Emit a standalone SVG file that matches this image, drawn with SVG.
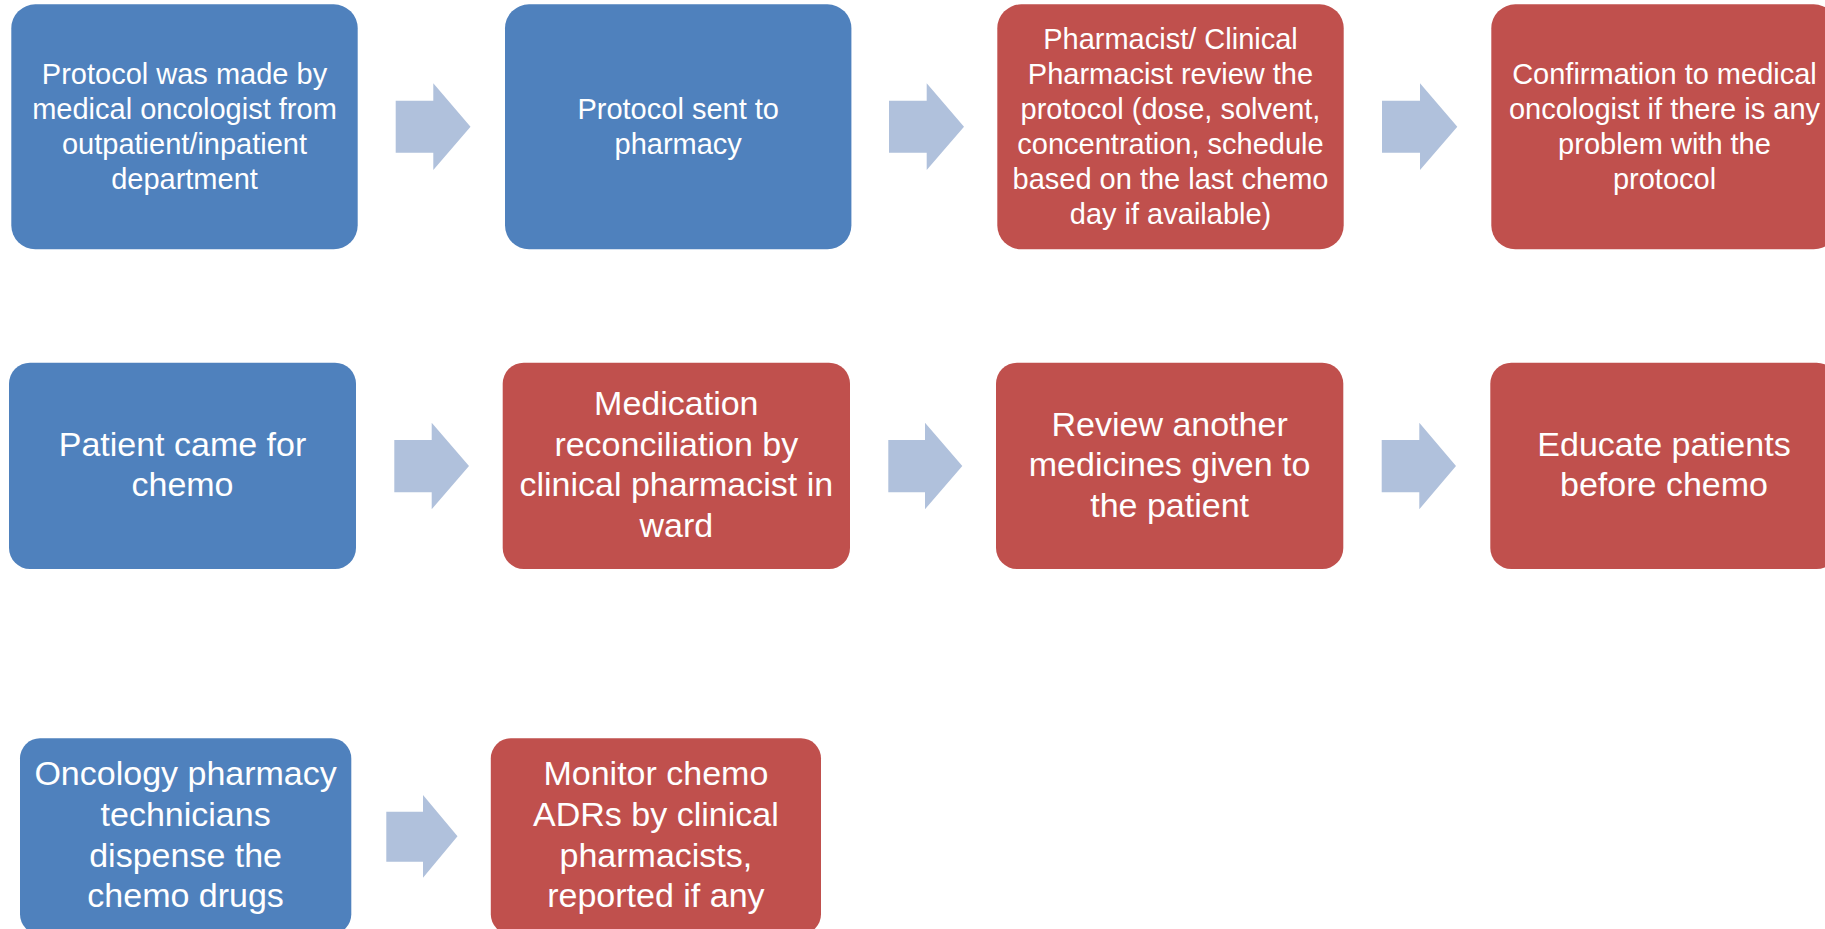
<svg xmlns="http://www.w3.org/2000/svg" width="1825" height="929" viewBox="0 0 1825 929">
<style>
.blue{fill:#4F81BD}
.red{fill:#C0504D}
.arrow{fill:#B0C1DC}
text{font-family:"Liberation Sans",Arial,sans-serif;fill:#FFFFFF;text-anchor:middle}
.t1{font-size:29px}
.t2{font-size:34px}
</style>
<rect width="1825" height="929" fill="#FFFFFF"/>
<g id="connectors">
<path class="arrow" d="M395.7,100.7 H433.3 V83.3 L470.5,126.7 L433.3,170 V152.7 H395.7 Z"/>
<path class="arrow" d="M889,100.7 H926.7 V83.3 L964,126.7 L926.7,170 V152.7 H889 Z"/>
<path class="arrow" d="M1382,100.7 H1420 V83.3 L1457.3,126.7 L1420,170 V152.7 H1382 Z"/>
<path class="arrow" d="M394.3,440 H431.7 V422.7 L469,466 L431.7,509.3 V492.3 H394.3 Z"/>
<path class="arrow" d="M888.3,440 H925 V422.7 L962.3,466 L925,509.3 V492.3 H888.3 Z"/>
<path class="arrow" d="M1381.7,440 H1419.3 V422.7 L1456,466 L1419.3,509.3 V492.3 H1381.7 Z"/>
<path class="arrow" d="M386.3,811.7 H423 V795 L457.5,836.3 L423,877.7 V861.7 H386.3 Z"/>
</g>
<g id="n1">
<rect class="blue" x="11.3" y="4.3" width="346.4" height="245" rx="24"/>
<text class="t1"><tspan x="184.5" y="83.9">Protocol was made by</tspan><tspan x="184.5" y="119">medical oncologist from</tspan><tspan x="184.5" y="154.1">outpatient/inpatient</tspan><tspan x="184.5" y="189.2">department</tspan></text>
</g>
<g id="n2">
<rect class="blue" x="505" y="4.3" width="346.4" height="245" rx="24"/>
<text class="t1"><tspan x="678.2" y="118.9">Protocol sent to</tspan><tspan x="678.2" y="154">pharmacy</tspan></text>
</g>
<g id="n3">
<rect class="red" x="997.3" y="4.3" width="346.4" height="245" rx="24"/>
<text class="t1"><tspan x="1170.5" y="48.8">Pharmacist/ Clinical</tspan><tspan x="1170.5" y="83.9">Pharmacist review the</tspan><tspan x="1170.5" y="119">protocol (dose, solvent,</tspan><tspan x="1170.5" y="154.1">concentration, schedule</tspan><tspan x="1170.5" y="189.2">based on the last chemo</tspan><tspan x="1170.5" y="224.3">day if available)</tspan></text>
</g>
<g id="n4">
<rect class="red" x="1491.3" y="4.3" width="346.4" height="245" rx="24"/>
<text class="t1"><tspan x="1664.5" y="83.9">Confirmation to medical</tspan><tspan x="1664.5" y="119">oncologist if there is any</tspan><tspan x="1664.5" y="154.1">problem with the</tspan><tspan x="1664.5" y="189.2">protocol</tspan></text>
</g>
<g id="n5">
<rect class="blue" x="9" y="362.7" width="347" height="206.3" rx="21"/>
<text class="t2"><tspan x="182.5" y="455.7">Patient came for</tspan><tspan x="182.5" y="496.3">chemo</tspan></text>
</g>
<g id="n6">
<rect class="red" x="502.7" y="362.7" width="347.3" height="206.3" rx="21"/>
<text class="t2"><tspan x="676.3" y="415.1">Medication</tspan><tspan x="676.3" y="455.7">reconciliation by</tspan><tspan x="676.3" y="496.3">clinical pharmacist in</tspan><tspan x="676.3" y="536.9">ward</tspan></text>
</g>
<g id="n7">
<rect class="red" x="996" y="362.7" width="347.3" height="206.3" rx="21"/>
<text class="t2"><tspan x="1169.6" y="435.8">Review another</tspan><tspan x="1169.6" y="476.4">medicines given to</tspan><tspan x="1169.6" y="517">the patient</tspan></text>
</g>
<g id="n8">
<rect class="red" x="1490.3" y="362.7" width="347.3" height="206.3" rx="21"/>
<text class="t2"><tspan x="1664" y="455.7">Educate patients</tspan><tspan x="1664" y="496.3">before chemo</tspan></text>
</g>
<g id="n9">
<rect class="blue" x="20" y="738.3" width="331.3" height="196" rx="20"/>
<text class="t2"><tspan x="185.6" y="785.3">Oncology pharmacy</tspan><tspan x="185.6" y="825.9">technicians</tspan><tspan x="185.6" y="866.5">dispense the</tspan><tspan x="185.6" y="907.1">chemo drugs</tspan></text>
</g>
<g id="n10">
<rect class="red" x="490.8" y="738.3" width="330.2" height="196" rx="20"/>
<text class="t2"><tspan x="655.9" y="785.3">Monitor chemo</tspan><tspan x="655.9" y="825.9">ADRs by clinical</tspan><tspan x="655.9" y="866.5">pharmacists,</tspan><tspan x="655.9" y="907.1">reported if any</tspan></text>
</g>
</svg>
